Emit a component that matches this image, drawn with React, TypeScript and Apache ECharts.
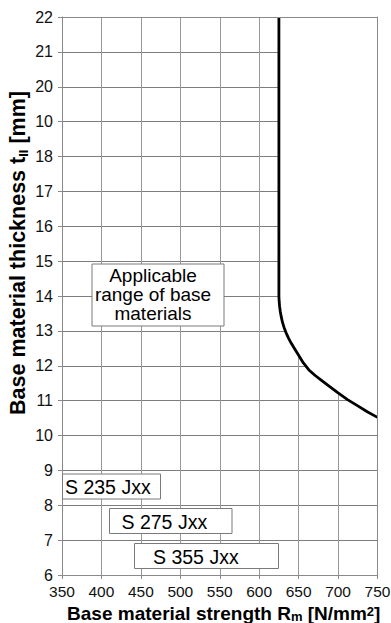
import React, { useEffect, useRef } from "react";
import * as echarts from "echarts";

// Curve: minimum base material thickness vs strength (boundary of applicable range)
const curveStrength = [625, 625, 625.3, 625.9, 626.8, 628, 629.5, 631.5, 634, 637, 640.5, 644.5, 650, 656, 663, 671, 679, 689, 700, 712, 725, 737, 750];
const curveThickness = [22, 14, 13.85, 13.7, 13.55, 13.4, 13.25, 13.1, 12.95, 12.8, 12.65, 12.5, 12.3, 12.08, 11.88, 11.72, 11.58, 11.41, 11.22, 11.03, 10.85, 10.68, 10.52];

const xMin = 350;
const xMax = 750;
const xStep = 50;
const yMin = 6;
const yMax = 22;
const yStep = 1;
// tick labels as printed in the original (note the "10" printed at 19)
const yTickLabels = ["6", "7", "8", "9", "10", "11", "12", "13", "14", "15", "16", "17", "18", "10", "20", "21", "22"];

const steelGrades = ["S 235 Jxx", "S 275 Jxx", "S 355 Jxx"];
const rangeNote = ["Applicable", "range of base", "materials"];

const FONT = "Arial, 'Liberation Sans', Helvetica, sans-serif";
const GRID_COLOR = "#8a8a8a";

export default function App() {
  const ref = useRef<HTMLDivElement>(null);

  useEffect(() => {
    document.body.style.margin = "0";
    if (!ref.current) return;
    const chart = echarts.init(ref.current, undefined, { renderer: "svg" });

    const curveData = curveStrength.map((x, i) => [x, curveThickness[i]]);

    const boxStyle = { fill: "#ffffff", stroke: "#7a7a7a", lineWidth: 1 };
    const boxText = { fill: "#000", font: `19.5px ${FONT}` };

    const gradeBoxes = [
      { x: 62.5, y: 474, w: 98, h: 25, tx: 65, ty: 487 },
      { x: 109.5, y: 508.5, w: 122.5, h: 25, tx: 121.5, ty: 521.5 },
      { x: 134.5, y: 543.5, w: 144, h: 25, tx: 153, ty: 556.5 },
    ];

    const graphics: any[] = [];
    graphics.push({
      type: "rect",
      z: 20,
      shape: { x: 92, y: 264, width: 132, height: 62 },
      style: boxStyle,
    });
    const noteY = [275.5, 294.5, 313.5];
    rangeNote.forEach((line, i) => {
      graphics.push({
        type: "text",
        z: 21,
        x: 153,
        y: noteY[i],
        style: {
          text: line,
          fill: "#000",
          font: `19px ${FONT}`,
          align: "center",
          verticalAlign: "middle",
          lineHeight: 17,
        },
      });
    });
    gradeBoxes.forEach((b, i) => {
      graphics.push({
        type: "rect",
        z: 20,
        shape: { x: b.x, y: b.y, width: b.w, height: b.h },
        style: boxStyle,
      });
      graphics.push({
        type: "text",
        z: 21,
        x: b.tx,
        y: b.ty,
        style: { text: steelGrades[i], ...boxText, align: "left", verticalAlign: "middle" },
      });
    });
    // y axis name
    graphics.push({
      type: "text",
      z: 21,
      x: 18,
      y: 253,
      rotation: Math.PI / 2,
      style: {
        text: "Base material thickness t{sub|II} [mm]",
        fill: "#000",
        font: `bold 21.5px ${FONT}`,
        align: "center",
        verticalAlign: "middle",
        rich: {
          sub: { font: `bold 13px ${FONT}`, fill: "#000", padding: [10, 0, 0, 0] },
        },
      },
    });

    const axisLabel = { color: "#111", fontSize: 15, fontFamily: FONT };

    chart.setOption({
      animation: false,
      backgroundColor: "#ffffff",
      grid: { left: 62, right: 13.5, top: 17, bottom: 48, containLabel: false, outerBoundsMode: "none" },
      xAxis: [
        {
          type: "value",
          min: xMin,
          max: xMax,
          interval: xStep,
          axisLine: { show: true, lineStyle: { color: GRID_COLOR, width: 1 } },
          axisTick: { show: true, length: 4, lineStyle: { color: GRID_COLOR } },
          axisLabel: { ...axisLabel, fontSize: 15.5, margin: 9, lineHeight: 14 },
          splitLine: { show: true, lineStyle: { color: "#999", width: 1 } },
          name: "Base material strength R{sub|m} [N/mm{sup|2}]",
          nameLocation: "middle",
          nameGap: 24,
          nameTextStyle: {
            color: "#000",
            fontSize: 19,
            lineHeight: 20,
            fontWeight: "bold",
            fontFamily: FONT,
            padding: [0, 0, 0, 8],
            rich: {
              sub: { fontSize: 13, lineHeight: 20, fontWeight: "bold", fontFamily: FONT, color: "#000", padding: [5, 0, 0, 0] },
              sup: { fontSize: 13, lineHeight: 20, fontWeight: "bold", fontFamily: FONT, color: "#000", padding: [0, 0, 5, 0] },
            },
          },
        },
        {
          type: "value",
          position: "top",
          min: xMin,
          max: xMax,
          interval: xStep,
          z: 10,
          axisLine: { show: true, lineStyle: { color: GRID_COLOR, width: 1 } },
          axisTick: { show: false },
          axisLabel: { show: false },
          splitLine: { show: false },
        },
      ],
      yAxis: [
        {
          type: "value",
          min: yMin,
          max: yMax,
          interval: yStep,
          axisLine: { show: true, lineStyle: { color: GRID_COLOR, width: 1 } },
          axisTick: { show: true, length: 4, lineStyle: { color: GRID_COLOR } },
          axisLabel: {
            ...axisLabel,
            fontSize: 16,
            lineHeight: 13,
            margin: 9,
            formatter: (v: number) => yTickLabels[Math.round((v - yMin) / yStep)] ?? String(v),
          },
          splitLine: { show: true, lineStyle: { color: "#7d7d7d", width: 1 } },
        },
        {
          type: "value",
          position: "right",
          min: yMin,
          max: yMax,
          interval: yStep,
          z: 10,
          axisLine: { show: true, lineStyle: { color: GRID_COLOR, width: 1 } },
          axisTick: { show: false },
          axisLabel: { show: false },
          splitLine: { show: false },
        },
      ],
      series: [
        {
          type: "line",
          data: curveData,
          xAxisIndex: 0,
          yAxisIndex: 0,
          showSymbol: false,
          symbol: "none",
          smooth: false,
          lineStyle: { color: "#000", width: 2.8, join: "round" },
          areaStyle: { color: "#ffffff", opacity: 1, origin: "end" },
          z: 3,
        },
      ],
      graphic: graphics,
    });

    return () => chart.dispose();
  }, []);

  return (
    <div
      ref={ref}
      style={{ position: "fixed", left: 0, top: 0, width: 391, height: 623, background: "#fff" }}
    />
  );
}
